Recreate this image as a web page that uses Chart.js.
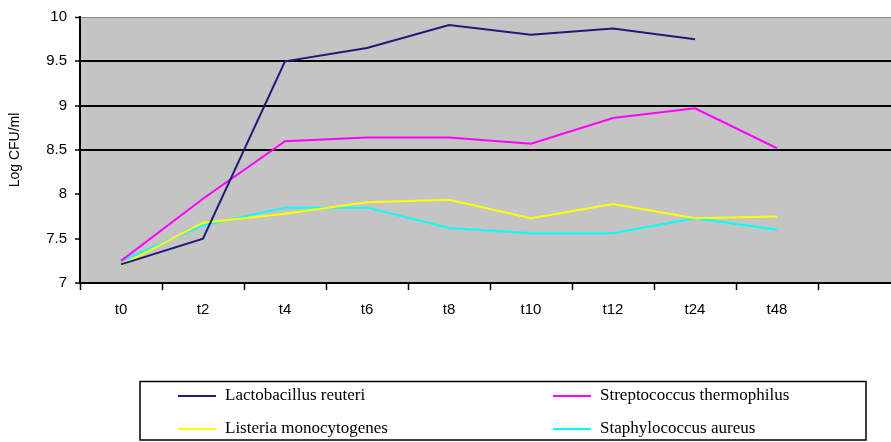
<!DOCTYPE html>
<html>
<head>
<meta charset="utf-8">
<script src="https://cdn.jsdelivr.net/npm/chart.js@4.4.1/dist/chart.umd.min.js"></script>
<style>
  html, body { margin: 0; padding: 0; background: #fff; overflow: hidden; }
  #wrap { position: relative; width: 905px; height: 442px; }
</style>
</head>
<body>
<div id="wrap"><canvas id="c" width="905" height="442"></canvas></div>
<script>
// ---- data ----
const categories = ['t0', 't2', 't4', 't6', 't8', 't10', 't12', 't24', 't48', ''];
const lactobacillusReuteri      = [7.21, 7.50, 9.50, 9.65, 9.91, 9.80, 9.87, 9.75, null, null];
const streptococcusThermophilus = [7.25, 7.95, 8.60, 8.64, 8.64, 8.57, 8.86, 8.97, 8.52, null];
const listeriaMonocytogenes     = [7.20, 7.68, 7.78, 7.91, 7.94, 7.73, 7.89, 7.73, 7.75, null];
const staphylococcusAureus      = [7.25, 7.65, 7.85, 7.85, 7.62, 7.56, 7.56, 7.73, 7.60, null];
const seriesNames = ['Lactobacillus reuteri', 'Streptococcus thermophilus', 'Listeria monocytogenes', 'Staphylococcus aureus'];
const yTitle = 'Log CFU/ml';

const colors = ['#1c1c78', '#ff00ff', '#ffff00', '#00ffff'];
const seriesData = [lactobacillusReuteri, streptococcusThermophilus, listeriaMonocytogenes, staphylococcusAureus];

const bgPlugin = {
  id: 'bg',
  beforeDraw(chart) {
    const {ctx, chartArea: a} = chart;
    ctx.save();
    ctx.fillStyle = '#c4c4c4';
    ctx.fillRect(a.left, a.top, a.right - a.left, a.bottom - a.top);
    ctx.restore();
  }
};

const legendBox = {
  id: 'legendBox',
  afterDraw(chart) {
    const ctx = chart.ctx;
    ctx.save();
    ctx.strokeStyle = '#000';
    ctx.lineWidth = 1.5;
    ctx.strokeRect(140, 381.5, 726, 58.5);
    const pos = [[178, 396], [553, 396], [178, 429], [553, 429]];
    ctx.font = '17px "Liberation Serif", "Times New Roman", serif';
    ctx.textBaseline = 'middle';
    ctx.textAlign = 'left';
    chart.data.datasets.forEach((ds, i) => {
      const [x, y] = pos[i];
      ctx.strokeStyle = ds.borderColor;
      ctx.lineWidth = 2;
      ctx.beginPath();
      ctx.moveTo(x, y);
      ctx.lineTo(x + 38, y);
      ctx.stroke();
      ctx.fillStyle = '#000';
      ctx.fillText(ds.label, x + 47, y);
    });
    ctx.restore();
  }
};

new Chart(document.getElementById('c'), {
  type: 'line',
  data: {
    labels: categories,
    datasets: seriesData.map((d, i) => ({
      label: seriesNames[i],
      data: d,
      borderColor: colors[i],
      backgroundColor: colors[i],
      borderWidth: 2,
      pointRadius: 0,
      tension: 0,
      spanGaps: false
    }))
  },
  options: {
    responsive: false,
    animation: false,
    layout: { padding: { top: 15, left: 0, right: 5, bottom: 0 } },
    plugins: { legend: { display: false }, tooltip: { enabled: false } },
    scales: {
      x: {
        offset: true,
        afterFit(scale) { scale.height = 159; },
        border: { display: true, color: '#000', width: 2 },
        grid: { drawOnChartArea: false, offset: true, tickColor: '#000', tickLength: 7, tickWidth: 1.5 },
        ticks: {
          color: '#000', padding: 11, maxRotation: 0, autoSkip: false,
          font: { family: 'Arial, "Liberation Sans", sans-serif', size: 15 }
        }
      },
      y: {
        min: 7, max: 10,
        afterFit(scale) { scale.width = 80; },
        border: { display: true, color: '#000', width: 2 },
        grid: {
          color(ctx) {
            const v = ctx.tick && ctx.tick.value;
            if (v === 8.5 || v === 9 || v === 9.5) return '#000';
            if (v === 10) return '#8a8a8a';
            return 'rgba(0,0,0,0)';
          },
          lineWidth(ctx) {
            const v = ctx.tick && ctx.tick.value;
            return (v === 10) ? 1 : 2;
          },
          tickColor: '#000', tickLength: 5, tickWidth: 1.5
        },
        ticks: {
          stepSize: 0.5, color: '#000', padding: 8,
          callback: (v) => String(Number(v)),
          font: { family: 'Arial, "Liberation Sans", sans-serif', size: 15 }
        },
        title: {
          display: true, text: yTitle, color: '#000',
          padding: { top: 7, bottom: 0 },
          font: { family: 'Arial, "Liberation Sans", sans-serif', size: 14 }
        }
      }
    }
  },
  plugins: [bgPlugin, legendBox]
});
</script>
</body>
</html>
